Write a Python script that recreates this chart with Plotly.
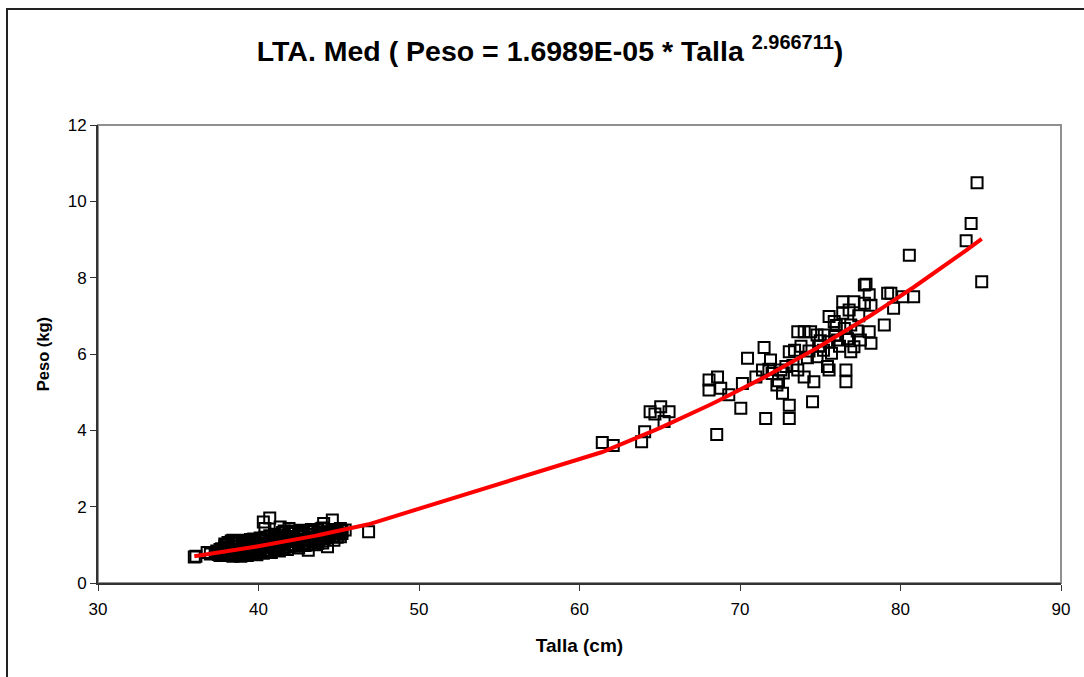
import plotly.graph_objects as go

talla_small = [36.0, 36.1, 36.8, 37.0, 37.3, 37.5, 37.6, 37.7, 37.8, 37.9, 38.0, 38.0, 38.1, 38.2, 38.3, 38.3,
               38.4, 38.5, 38.6, 38.6, 38.7, 38.8, 38.9, 38.9, 39.0, 39.0, 39.1, 39.2, 39.3, 39.3, 39.4, 39.5,
               39.5, 39.6, 39.7, 39.7, 39.8, 39.9, 39.9, 40.0, 40.0, 40.1, 40.2, 40.3, 40.3, 40.4, 40.4, 40.5,
               40.6, 40.7, 40.8, 40.8, 40.9, 41.0, 41.0, 41.1, 41.2, 41.2, 41.3, 41.35, 41.4, 41.5, 41.5, 41.6,
               41.7, 41.8, 41.9, 41.9, 42.0, 42.0, 42.1, 42.2, 42.3, 42.4, 42.5, 42.6, 42.6, 42.7, 42.8, 42.9,
               43.0, 43.1, 43.2, 43.3, 43.4, 43.5, 43.6, 43.7, 43.8, 43.9, 44.0, 44.06, 44.1, 44.3, 44.4, 44.6,
               44.7, 44.8, 45.0, 45.1, 45.1, 45.4, 46.86]
peso_small = [0.68, 0.70, 0.80, 0.76, 0.80, 0.75, 0.82, 0.90, 0.72, 0.86, 0.78, 1.00, 0.92, 0.74, 1.10, 0.84,
              0.70, 0.96, 0.76, 1.05, 0.88, 1.02, 0.80, 0.70, 0.93, 1.10, 0.75, 1.05, 0.86, 0.72, 0.98, 0.82,
              0.95, 1.08, 0.90, 1.15, 0.78, 1.00, 0.74, 0.87, 1.05, 1.12, 0.95, 1.60, 0.78, 1.43, 1.20, 0.82,
              1.04, 1.70, 0.92, 0.80, 1.15, 0.98, 1.28, 0.88, 1.20, 1.02, 0.84, 1.47, 1.05, 0.94, 1.32, 1.25,
              1.10, 0.88, 1.43, 1.00, 1.00, 1.35, 1.18, 1.30, 0.96, 1.12, 0.92, 1.24, 1.38, 1.05, 1.35, 0.98,
              1.15, 0.86, 1.28, 1.40, 1.08, 1.00, 1.20, 1.12, 1.32, 1.42, 1.05, 1.56, 1.15, 0.95, 1.25, 1.65,
              1.12, 1.35, 1.28, 1.43, 1.21, 1.39, 1.34]

talla_band = [37.4, 37.4, 37.6, 37.6, 37.9, 37.9, 37.9, 38.1, 38.1, 38.4, 38.4, 38.4, 38.7, 38.7, 38.7,
              39.0, 39.0, 39.2, 39.2, 39.2, 39.5, 39.5, 39.5, 39.8, 39.8, 39.8, 40.1, 40.1, 40.1, 40.1,
              40.4, 40.4, 40.4, 40.7, 40.7, 40.7, 40.7, 41.0, 41.0, 41.0, 41.3, 41.3, 41.3, 41.3,
              41.6, 41.6, 41.6, 41.6, 41.9, 41.9, 41.9, 41.9, 42.2, 42.2, 42.2, 42.2, 42.5, 42.5, 42.5,
              42.8, 42.8, 42.8, 42.8, 43.1, 43.1, 43.1, 43.1, 43.4, 43.4, 43.4, 43.7, 43.7, 43.7,
              44.0, 44.0, 44.0, 44.0, 44.3, 44.3, 44.6, 44.6, 44.6, 44.9, 44.9, 45.2, 45.2]
peso_band = [0.78, 0.84, 0.72, 0.88, 0.76, 0.95, 1.02, 0.82, 1.06, 0.78, 0.90, 1.12, 0.74, 0.96, 1.08,
             0.80, 1.00, 0.76, 0.92, 1.12, 0.78, 1.02, 1.14, 0.84, 0.96, 1.10, 0.80, 0.92, 1.02, 1.18,
             0.86, 0.98, 1.10, 0.84, 0.96, 1.12, 1.24, 0.86, 1.08, 1.18, 0.90, 1.00, 1.14, 1.26,
             0.92, 1.04, 1.16, 1.36, 0.94, 1.08, 1.22, 1.30, 0.98, 1.10, 1.20, 1.36, 1.00, 1.14, 1.28,
             1.02, 1.12, 1.22, 1.30, 1.00, 1.10, 1.20, 1.34, 1.16, 1.26, 1.36, 1.04, 1.24, 1.38,
             1.10, 1.20, 1.30, 1.44, 1.18, 1.34, 1.22, 1.30, 1.40, 1.20, 1.38, 1.30, 1.36]

talla_large = [61.42, 62.1, 63.87, 64.06, 64.4, 64.7, 65.06, 65.27, 65.58, 68.55, 68.07, 68.8, 69.3, 68.07,
               68.6, 70.05, 70.15, 70.47, 70.99, 71.5, 71.6, 71.4, 71.9, 72.0, 72.55, 72.3, 72.65, 73.07, 73.07,
               72.86, 73.07, 73.4, 73.6, 74.0, 73.6, 74.0, 74.6, 74.52, 74.3, 74.4, 74.8, 75.25, 75.55, 75.87,
               76.4, 77.1, 77.75, 78.05, 78.16, 78.99, 78.05, 78.16, 77.5, 76.9, 76.5, 76.08, 75.55, 77.1, 76.9,
               75.7, 74.8, 75.45, 75.55, 76.6, 76.6, 79.2, 76.4, 76.8, 77.75, 84.77, 84.4, 84.09, 80.55, 85.06,
               79.4, 80.14, 80.82, 79.57, 77.85, 73.8, 74.2, 74.9, 75.2, 75.9, 76.2, 76.7, 77.3, 77.4, 75.0,
               76.0, 73.3, 72.7, 71.8, 72.4]
peso_large = [3.68, 3.60, 3.70, 3.96, 4.49, 4.43, 4.62, 4.23, 4.49, 3.89, 5.06, 5.10, 4.93, 5.32,
              5.40, 4.58, 5.23, 5.89, 5.40, 6.17, 4.31, 5.58, 5.84, 5.49, 5.58, 5.19, 4.97, 4.66, 4.31,
              5.67, 6.06, 6.10, 6.58, 6.58, 5.58, 5.40, 5.27, 4.75, 6.08, 6.58, 6.50, 6.50, 6.98, 6.85,
              7.37, 7.37, 7.81, 7.55, 7.28, 6.76, 6.58, 6.28, 6.37, 6.76, 6.67, 6.37, 6.32, 6.19, 6.06,
              6.02, 5.93, 5.67, 5.58, 5.58, 5.27, 7.59, 7.07, 7.15, 7.33, 10.49, 9.42, 8.97, 8.59, 7.89,
              7.59, 7.50, 7.50, 7.20, 7.83, 6.20, 5.90, 6.20, 6.10, 6.50, 6.20, 6.40, 6.60, 7.00, 6.35,
              6.75, 5.70, 5.50, 5.60, 5.30]

# Fitted model from the title: Peso = a * Talla^b
fit_a = 1.6989e-05
fit_b = 2.966711

talla = talla_small + talla_band + talla_large
peso = peso_small + peso_band + peso_large

fit_x = sorted(set(talla))
fit_y = [fit_a * t ** fit_b for t in fit_x]

x_ticks = [30, 40, 50, 60, 70, 80, 90]
y_ticks = [0, 2, 4, 6, 8, 10, 12]

fig = go.Figure()
fig.add_trace(go.Scatter(
    x=talla, y=peso, mode="markers",
    marker=dict(symbol="square-open", size=11, color="black", line=dict(width=2, color="black")),
    showlegend=False, hoverinfo="x+y",
))
fig.add_trace(go.Scatter(
    x=fit_x, y=fit_y, mode="lines",
    line=dict(color="#ff0000", width=4),
    showlegend=False,
))

FONT = "Liberation Sans, Arial, sans-serif"

fig.update_layout(
    width=1084, height=677,
    margin=dict(l=98, r=23, t=125, b=94),
    paper_bgcolor="white", plot_bgcolor="white",
    font=dict(family=FONT, size=17, color="black"),
    title=dict(
        text="<b>LTA. Med ( Peso = 1.6989E-05 * Talla <sup>2.966711</sup>)</b>",
        x=550 / 1084, xanchor="center", xref="container",
        y=1 - 51 / 677, yanchor="middle", yref="container",
        font=dict(family=FONT, size=28.5, color="black"),
    ),
    xaxis=dict(
        range=[30, 90], tickvals=x_ticks, ticks="outside", ticklen=6, tickcolor="#333",
        showline=True, linecolor="#333", linewidth=2, showgrid=False, zeroline=False,
        tickfont=dict(family=FONT, size=17), ticklabelstandoff=4,
        title=dict(text="<b>Talla (cm)</b>", font=dict(family=FONT, size=19), standoff=20),
    ),
    yaxis=dict(
        range=[0, 12], tickvals=y_ticks, ticks="outside", ticklen=6, tickcolor="#333",
        showline=True, linecolor="#333", linewidth=2, showgrid=False, zeroline=False,
        tickfont=dict(family=FONT, size=17),
        title=dict(text="<b>Peso (kg)</b>", font=dict(family=FONT, size=16.5), standoff=14),
    ),
    shapes=[
        dict(type="rect", xref="paper", yref="paper", x0=0, y0=0, x1=1, y1=1,
             line=dict(color="#909090", width=2), layer="below"),
        dict(type="rect", xref="paper", yref="paper",
             x0=(7 - 98) / 963, x1=(1100 - 98) / 963,
             y0=(583 - 700) / 458, y1=(583 - 9) / 458,
             line=dict(color="#222", width=2), layer="below"),
    ],
)

fig.write_html("out.html", config={"displayModeBar": False},
               post_script="document.body.style.margin='0';")
